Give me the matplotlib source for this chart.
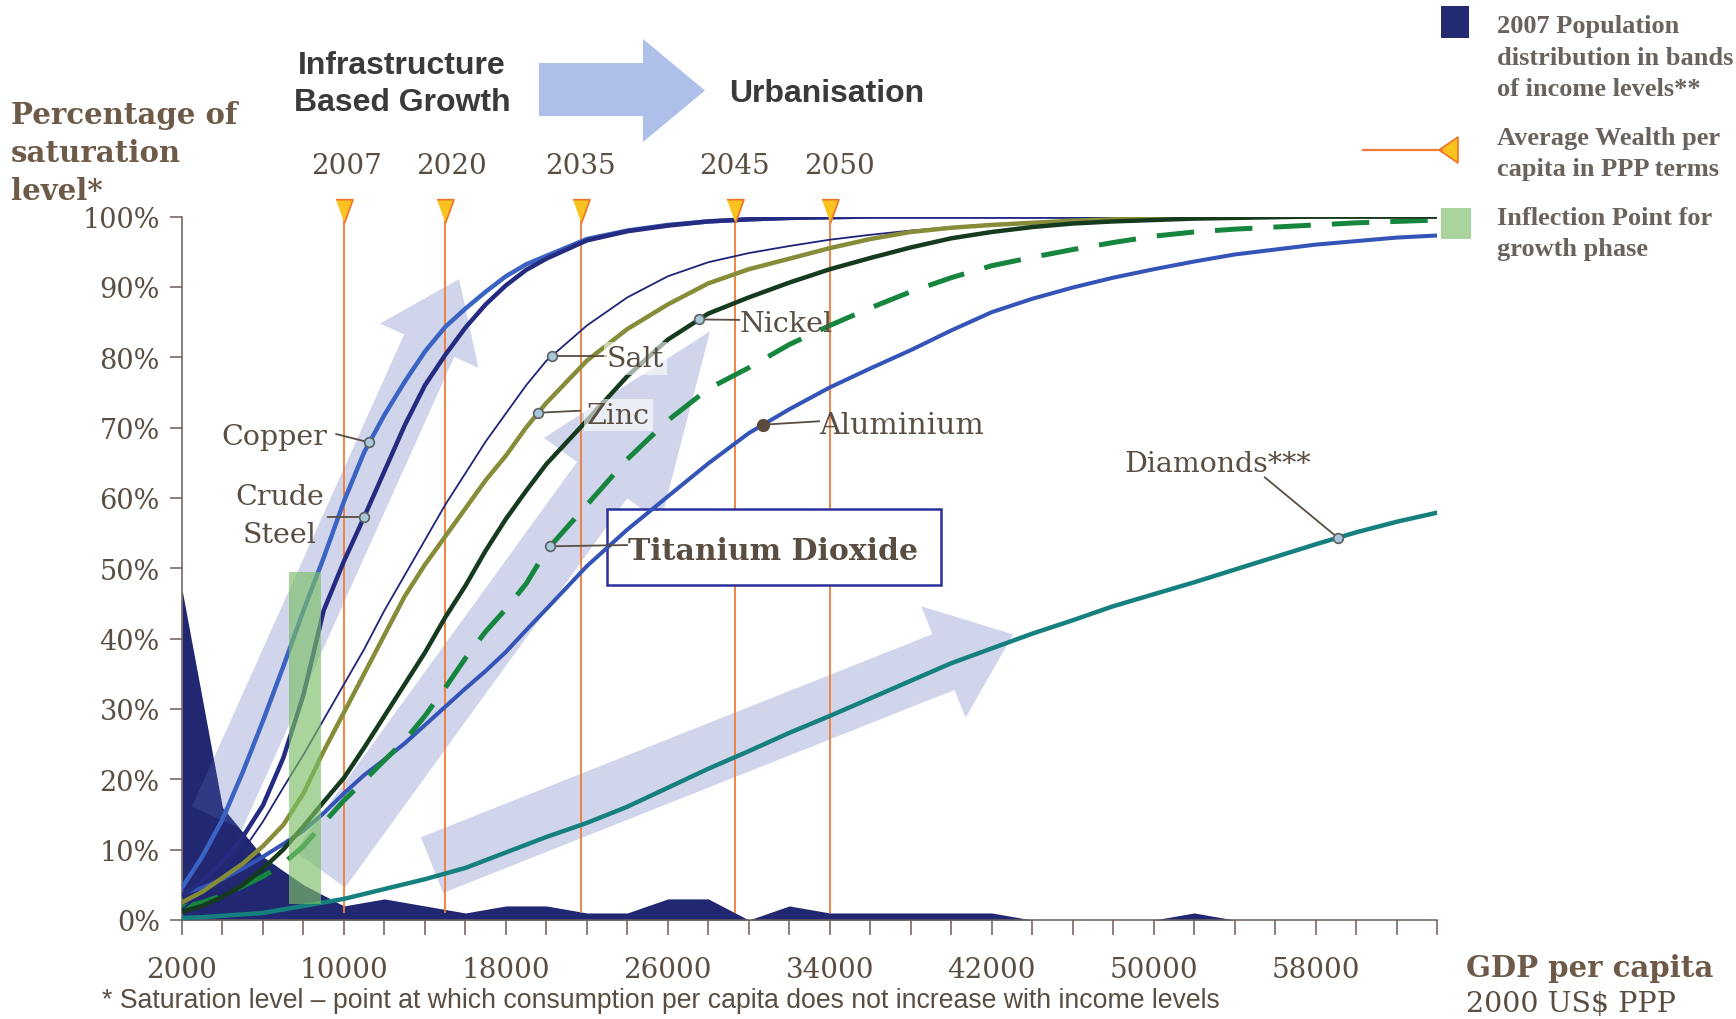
import numpy as np
import matplotlib
matplotlib.use("Agg")
import matplotlib.pyplot as plt
from matplotlib.patches import Polygon, Rectangle
from matplotlib.lines import Line2D
from matplotlib.transforms import (IdentityTransform, blended_transform_factory,
                                   offset_copy)

W, H, DPI = 1736, 1020, 100

# GDP per capita grid (2000 US$ PPP)
gdp = [2000, 3000, 4000, 5000, 6000, 7000, 8000, 9000, 10000, 11000, 12000,
       13000, 14000, 15000, 16000, 17000, 18000, 19000, 20000, 22000, 24000,
       26000, 28000, 30000, 32000, 34000, 36000, 38000, 40000, 42000, 44000,
       46000, 48000, 50000, 52000, 54000, 56000, 58000, 60000, 62000, 64000]

# Percentage of saturation level per commodity
copper = [4.6, 9.0, 14.3, 21.0, 28.3, 36.0, 44.0, 51.5, 59.5, 66.5, 71.8,
          76.5, 80.8, 84.3, 86.9, 89.3, 91.5, 93.2, 94.4, 96.8, 98.0,
          98.8, 99.3, 99.6, 99.8, 99.9, 100, 100, 100, 100, 100,
          100, 100, 100, 100, 100, 100, 100, 100, 100, 100]
crude_steel = [3.5, 5.5, 8.3, 11.8, 16.3, 23.0, 32.0, 44.0, 51.0, 57.3, 63.8,
               70.3, 76.0, 80.3, 84.2, 87.5, 90.2, 92.4, 94.0, 96.6, 97.9,
               98.7, 99.3, 99.6, 99.8, 99.9, 100, 100, 100, 100, 100,
               100, 100, 100, 100, 100, 100, 100, 100, 100, 100]
salt = [1.5, 3.8, 6.3, 9.8, 14.0, 18.8, 23.5, 28.5, 33.5, 38.5, 44.0,
        49.0, 54.0, 59.0, 63.5, 68.0, 72.0, 76.0, 79.5, 84.5, 88.5,
        91.5, 93.5, 94.8, 95.8, 96.7, 97.4, 98.0, 98.5, 98.9, 99.2,
        99.5, 99.7, 99.8, 99.9, 100, 100, 100, 100, 100, 100]
zinc = [2.5, 4.0, 6.0, 8.0, 10.5, 13.5, 18.0, 24.0, 29.5, 35.0, 40.5,
        46.0, 50.5, 54.5, 58.5, 62.5, 66.0, 70.0, 73.5, 79.5, 84.0,
        87.5, 90.5, 92.5, 94.0, 95.5, 96.8, 97.8, 98.4, 98.8, 99.1,
        99.4, 99.6, 99.8, 99.9, 100, 100, 100, 100, 100, 100]
nickel = [1.2, 2.0, 3.3, 5.0, 7.3, 10.0, 13.3, 16.8, 20.2, 24.5, 29.0,
          33.5, 38.0, 43.0, 47.5, 52.5, 57.0, 61.0, 64.8, 71.0, 77.3,
          82.5, 86.2, 88.5, 90.6, 92.5, 94.1, 95.6, 96.9, 97.8, 98.5,
          99.0, 99.3, 99.5, 99.7, 99.8, 99.9, 100, 100, 100, 100]
titanium_dioxide = [1.8, 2.5, 3.5, 4.8, 6.2, 8.0, 10.5, 13.8, 17.0, 19.8, 22.7,
                    25.5, 29.0, 33.0, 37.2, 41.0, 44.2, 47.8, 52.5, 59.0, 65.5,
                    71.0, 75.5, 78.5, 81.8, 84.5, 87.0, 89.3, 91.3, 93.0, 94.2,
                    95.3, 96.3, 97.2, 97.8, 98.2, 98.5, 98.8, 99.1, 99.3, 99.5]
aluminium = [3.8, 4.6, 5.8, 7.3, 9.0, 10.8, 12.7, 15.2, 18.0, 20.6, 22.8,
             25.1, 27.7, 30.3, 32.9, 35.4, 38.1, 41.2, 44.2, 50.3, 55.5,
             60.2, 64.9, 69.2, 72.6, 75.7, 78.4, 81.0, 83.8, 86.4, 88.3,
             89.9, 91.3, 92.5, 93.6, 94.6, 95.3, 96.0, 96.5, 97.0, 97.3]
diamonds = [0.3, 0.4, 0.6, 0.8, 1.0, 1.5, 2.0, 2.5, 3.0, 3.7, 4.4,
            5.1, 5.8, 6.6, 7.4, 8.5, 9.6, 10.7, 11.8, 13.8, 16.1,
            18.8, 21.5, 24.0, 26.6, 29.0, 31.5, 34.0, 36.5, 38.6, 40.7,
            42.6, 44.6, 46.3, 48.0, 49.8, 51.6, 53.4, 55.1, 56.6, 57.9]

# 2007 population distribution across income bands (%)
band_gdp = [2000, 4000, 6000, 8000, 10000, 12000, 14000, 16000, 18000, 20000,
            22000, 24000, 26000, 28000, 30000, 32000, 34000, 36000, 38000,
            40000, 42000, 44000, 46000, 48000, 50000, 52000, 54000, 56000,
            58000, 60000, 62000, 64000]
band_share = [47, 16, 9, 5, 2, 3, 2, 1, 2, 2,
              1, 1, 3, 3, 0, 2, 1, 1, 1,
              1, 1, 0, 0, 0, 0, 1, 0, 0,
              0, 0, 0, 0]

# Average wealth per capita (PPP) by year
wealth_years = ["2007", "2020", "2035", "2045", "2050"]
wealth_gdp = [10000, 15000, 21700, 29300, 34000]

# Inflection point band for the growth phase
inflection_gdp = (7300, 8850)
inflection_pct = (2.3, 49.5)

x_ticks = [2000, 4000, 6000, 8000, 10000, 12000, 14000, 16000, 18000, 20000,
           22000, 24000, 26000, 28000, 30000, 32000, 34000, 36000, 38000,
           40000, 42000, 44000, 46000, 48000, 50000, 52000, 54000, 56000,
           58000, 60000, 62000, 64000]
x_tick_labels = ["2000", "", "", "", "10000", "", "", "", "18000", "", "", "",
                 "26000", "", "", "", "34000", "", "", "", "42000", "", "", "",
                 "50000", "", "", "", "58000", "", "", ""]
y_ticks = [0, 10, 20, 30, 40, 50, 60, 70, 80, 90, 100]
y_tick_labels = ["0%", "10%", "20%", "30%", "40%", "50%", "60%", "70%",
                 "80%", "90%", "100%"]

TXT = "#5a4d42"
AXC = "#6b5e55"
SERIF = "DejaVu Serif"
plt.rcParams["font.family"] = SERIF

fig = plt.figure(figsize=(W / DPI, H / DPI), dpi=DPI)
fig.patch.set_facecolor("white")


def fx(px):
    return px / W


def fy(py):
    return 1 - py / H


ax = fig.add_axes([fx(182), fy(921), (1437 - 182) / W, (921 - 217.5) / H])
ax.set_xlim(2000, 64000)
ax.set_ylim(0, 100)
ax.set_facecolor("none")

# population bands
ax.fill_between(band_gdp, 0, band_share, color="#212871", lw=0, zorder=1)


def block_arrow(tail, tip, body_w, head_w, head_len, **kw):
    p0 = ax.transData.transform(tail)
    p1 = ax.transData.transform(tip)
    d = p1 - p0
    u = d / np.hypot(*d)
    n = np.array([-u[1], u[0]])
    b = p1 - u * head_len
    pts = [p0 + n * body_w / 2, b + n * body_w / 2, b + n * head_w / 2, p1,
           b - n * head_w / 2, b - n * body_w / 2, p0 - n * body_w / 2]
    ax.add_patch(Polygon(pts, closed=True, transform=IdentityTransform(),
                         clip_on=False, **kw))


arrow_style = dict(facecolor="#5a6ab8", alpha=0.28, edgecolor="none", zorder=2)
block_arrow((3730, 14.5), (15690, 91.1), 55, 108, 73, **arrow_style)
block_arrow((8820, 7.2), (28090, 83.7), 62, 144, 184, **arrow_style)
block_arrow((14350, 7.8), (43060, 40.6), 60, 120, 75, **arrow_style)

# average wealth markers
ax.vlines(wealth_gdp, 1.0, 100.3, color="#f07c36", lw=1.3, zorder=3)
tri_down = [(-0.36, 0.5), (0.36, 0.5), (0, -0.5)]
ax.plot(wealth_gdp, [100.8] * len(wealth_gdp), ls="none", marker=tri_down,
        ms=17, mfc="#f9c21e", mec="#ee7428", mew=1.2, clip_on=False, zorder=9)
year_tr = blended_transform_factory(ax.transData, fig.transFigure)
year_shift = [3, 6, 0, 0, 10]
for g, yr, dx in zip(wealth_gdp, wealth_years, year_shift):
    ax.text(g, fy(174), yr, ha="center", va="baseline", fontsize=20,
            color=TXT,
            transform=offset_copy(year_tr, fig=fig, x=dx, y=0, units="dots"))

# titanium dioxide label frame
ax.add_patch(Rectangle((23000, 47.6), 16500, 10.8, facecolor="white",
                       edgecolor="#2c2f9c", lw=1.8, zorder=4))

# commodity curves
ax.plot(gdp, diamonds, color="#15807e", lw=3.2, zorder=5,
        solid_capstyle="round")
ax.plot(gdp, aluminium, color="#3454b8", lw=2.9, zorder=5,
        solid_capstyle="round")
ax.plot(gdp, titanium_dioxide, color="#16863f", lw=3.6, zorder=5,
        dashes=(7.5, 4.2))
ax.plot(gdp, copper, color="#3a63c4", lw=3.2, zorder=5, solid_capstyle="round")
ax.plot(gdp, crude_steel, color="#242b80", lw=3.2, zorder=5,
        solid_capstyle="round")
ax.plot(gdp, salt, color="#1f2478", lw=1.3, zorder=5)
ax.plot(gdp, zinc, color="#868c38", lw=3.2, zorder=5, solid_capstyle="round")
ax.plot(gdp, nickel, color="#163a1e", lw=3.2, zorder=5,
        solid_capstyle="round")

# inflection point band
ax.add_patch(Rectangle((inflection_gdp[0], inflection_pct[0]),
                       inflection_gdp[1] - inflection_gdp[0],
                       inflection_pct[1] - inflection_pct[0],
                       facecolor="#7cbf68", alpha=0.65, edgecolor="none",
                       zorder=6))

# curve labels with leader lines
lead_kw = dict(color=TXT, lw=1.3, zorder=8, solid_capstyle="butt")
dot_kw = dict(ls="none", marker="o", ms=7, mfc="#a8c8da", mec="#5d5f63",
              mew=1.2, zorder=9)
lab_kw = dict(color=TXT, va="center_baseline", zorder=10)
soft_box = dict(facecolor="white", alpha=0.6, edgecolor="none", pad=2)


def mark(series, g):
    return g, float(np.interp(g, gdp, series))


cx, cy = mark(copper, 11260)
ax.plot([9580, cx], [69.1, cy], **lead_kw)
ax.plot([cx], [cy], **dot_kw)
ax.text(9160, 69.2, "Copper", ha="right", fontsize=20.5, **lab_kw)

cx, cy = mark(crude_steel, 11000)
ax.plot([9145, cx], [cy, cy], **lead_kw)
ax.plot([cx], [cy], **dot_kw)
ax.text(6840, 60.6, "Crude", ha="center", fontsize=20.5, **lab_kw)
ax.text(6840, 55.2, "Steel", ha="center", fontsize=20.5, **lab_kw)

cx, cy = mark(salt, 20255)
ax.plot([cx, 22980], [cy, cy], **lead_kw)
ax.plot([cx], [cy], **dot_kw)
ax.text(22980, 80.2, "Salt", ha="left", bbox=soft_box, fontsize=20.5,
        **lab_kw)

cx, cy = mark(zinc, 19600)
ax.plot([cx, 21700], [cy, 72.4], **lead_kw)
ax.plot([cx], [cy], **dot_kw)
ax.text(22010, 72.2, "Zinc", ha="left", bbox=soft_box, fontsize=20.5,
        **lab_kw)

cx, cy = mark(nickel, 27550)
ax.plot([cx, 29570], [cy, 85.3], **lead_kw)
ax.plot([cx], [cy], **dot_kw)
ax.text(29570, 85.2, "Nickel", ha="left", fontsize=20.5, **lab_kw)

cx, cy = mark(aluminium, 30710)
ax.plot([cx, 33520], [cy, 70.9], **lead_kw)
ax.plot([cx], [cy], ls="none", marker="o", ms=8.5, mfc="#5b4a3c",
        mec="#5b4a3c", zorder=9)
ax.text(33470, 70.8, "Aluminium", ha="left", fontsize=21.5, **lab_kw)

cx, cy = mark(titanium_dioxide, 20192)
ax.plot([cx, 24030], [cy, 53.3], **lead_kw)
ax.plot([cx], [cy], **dot_kw)
ax.text(24030, 52.9, "Titanium Dioxide", ha="left", fontweight="bold",
        fontsize=21.5, **lab_kw)

cx, cy = mark(diamonds, 59100)
ax.plot([55460, cx], [63.0, cy], **lead_kw)
ax.plot([cx], [cy], **dot_kw)
ax.text(53170, 65.3, "Diamonds***", ha="center", fontsize=20.5, **lab_kw)

# axes styling
for side in ("top", "right"):
    ax.spines[side].set_visible(False)
for side in ("left", "bottom"):
    ax.spines[side].set_color(AXC)
    ax.spines[side].set_linewidth(1.1)
ax.set_xticks(x_ticks)
ax.set_xticklabels(x_tick_labels)
ax.set_yticks(y_ticks)
ax.set_yticklabels(y_tick_labels)
ax.tick_params(axis="x", length=11, width=1.1, color=AXC, pad=15,
               labelsize=20, labelcolor=TXT)
ax.tick_params(axis="y", length=9, width=1.1, color=AXC, pad=7,
               labelsize=19.5, labelcolor=TXT)

# header arrow and phases
top_arrow = [(539, 64), (643, 64), (643, 40), (705, 91.5), (643, 143),
             (643, 117), (539, 117)]
fig.add_artist(Polygon([(fx(x), fy(y)) for x, y in top_arrow], closed=True,
                       transform=fig.transFigure, facecolor="#aec0ea",
                       edgecolor="none"))
hdr = dict(family="Liberation Sans", fontweight="bold", fontsize=23,
           color="#3a3a3a", ha="center", va="baseline")
fig.text(fx(402), fy(74), "Infrastructure", **hdr)
fig.text(fx(402), fy(111), "Based Growth", **hdr)
fig.text(fx(827), fy(102), "Urbanisation", **hdr)

# y-axis title
ttl = dict(fontweight="bold", fontsize=21, color="#6e5a48", ha="left",
           va="baseline")
fig.text(fx(11), fy(124), "Percentage of", **ttl)
fig.text(fx(11), fy(162), "saturation", **ttl)
fig.text(fx(11), fy(200), "level*", **ttl)

# x-axis title
fig.text(fx(1466), fy(977), "GDP per capita", fontweight="bold", fontsize=21,
         color="#6e5a48", ha="left", va="baseline")
fig.text(fx(1466), fy(1012), "2000 US$ PPP", fontsize=20.5, color=TXT,
         ha="left", va="baseline")

# footnote
fig.text(fx(102), fy(1008),
         "* Saturation level \u2013 point at which consumption per capita "
         "does not increase with income levels",
         family="Liberation Sans", fontsize=19.2, color=TXT, ha="left",
         va="baseline")

# legend
fig.add_artist(Rectangle((fx(1441), fy(39)), (1469 - 1441) / W, 32 / H,
                         transform=fig.transFigure, facecolor="#222a72",
                         edgecolor="none"))
fig.add_artist(Line2D([fx(1363), fx(1442)], [fy(151), fy(151)],
                      transform=fig.transFigure, color="#f07c36", lw=1.6))
fig.add_artist(Polygon([(fx(1439), fy(151)), (fx(1458), fy(138)),
                        (fx(1458), fy(164))], closed=True,
                       transform=fig.transFigure, facecolor="#f9c21e",
                       edgecolor="#ee7428", lw=1.2))
fig.add_artist(Rectangle((fx(1441), fy(240)), 30 / W, 31 / H,
                         transform=fig.transFigure, facecolor="#7cbf68",
                         alpha=0.65, edgecolor="none"))
leg = dict(family="Liberation Serif", fontweight="bold", fontsize=19,
           color="#6a625c", ha="left", va="baseline")
for text, base in [("2007 Population", 33), ("distribution in bands", 65),
                   ("of income levels**", 96), ("Average Wealth per", 145),
                   ("capita in PPP terms", 176), ("Inflection Point for", 225),
                   ("growth phase", 256)]:
    fig.text(fx(1497), fy(base), text, **leg)

fig.savefig("out.png", dpi=DPI, facecolor="white")
